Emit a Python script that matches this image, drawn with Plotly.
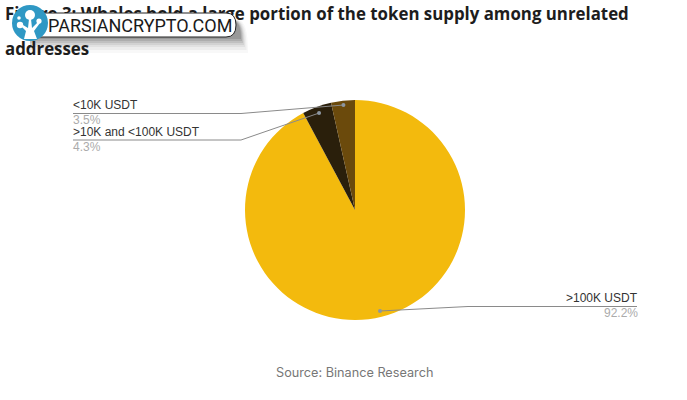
import math
import plotly.graph_objects as go

W, H = 687, 400
categories = [">100K USDT", ">10K and <100K USDT", "<10K USDT"]
values = [92.2, 4.3, 3.5]
colors = ["#F3BA0D", "#2A1F0B", "#6B4A0C"]
pct_labels = ["92.2%", "4.3%", "3.5%"]
title_lines = ["Figure 3: Whales hold a large portion of the token supply among unrelated", "addresses"]
source_text = "Source: Binance Research"
logo_text = "PARSIANCRYPTO.COM"

def px(x): return x / W
def py(y): return 1 - y / H

CX, CY, R = 355, 210, 110

fig = go.Figure(go.Pie(
    labels=categories, values=values, sort=False, direction="clockwise", rotation=0,
    marker=dict(colors=colors, line=dict(width=0)), textinfo="none", hoverinfo="label+percent",
    domain=dict(x=[px(CX - R), px(CX + R)], y=[py(CY + R), py(CY - R)]), showlegend=False,
))

# the title sits under the logo, so it is a text trace (drawn below the shapes)
fig.add_trace(go.Scatter(
    x=[5, 5], y=[16, 51], mode="text", text=[f"<b>{t}</b>" for t in title_lines],
    textposition="middle right", textfont=dict(size=16.85, color="#1d1d1d", family="Open Sans"),
    hoverinfo="skip", showlegend=False,
))

shapes, annos = [], []

def seg(x0, y0, x1, y1, color="#8a8a8a", w=1):
    shapes.append(dict(type="line", xref="paper", yref="paper", x0=px(x0), y0=py(y0), x1=px(x1), y1=py(y1),
                       line=dict(color=color, width=w)))

def text(x, y, s, size, color, anchor="left", family="Liberation Sans"):
    annos.append(dict(xref="paper", yref="paper", x=px(x), y=py(y), text=s, showarrow=False,
                      xanchor=anchor, yanchor="middle", font=dict(size=size, color=color, family=family),
                      borderpad=0))

cum = 0
mids = []
for v in values:
    mids.append((cum + v / 2) / sum(values) * 2 * math.pi)
    cum += v

def point(i, f):
    return CX + f * R * math.sin(mids[i]), CY - f * R * math.cos(mids[i])

dot0 = (380, 311)
dot1 = point(1, 0.94)
dot2 = point(2, 0.96)

for (dx, dy), path in [
    (dot0, [(468, 306.5), (637, 306.5)]),
    (dot1, [(241, 140), (73, 140)]),
    (dot2, [(241, 113.5), (73, 113.5)]),
]:
    pts = [(dx, dy)] + path
    for a, b in zip(pts, pts[1:]):
        seg(a[0], a[1], b[0], b[1])
    shapes.append(dict(type="circle", xref="paper", yref="paper", x0=px(dx - 2), x1=px(dx + 2), y0=py(dy + 2), y1=py(dy - 2),
                       fillcolor="#8d96a0", line=dict(width=0)))

text(638.5, 298, categories[0], 12, "#333333", "right")
text(638.5, 313, pct_labels[0], 12, "#ababab", "right")
text(72, 105.5, categories[2], 12, "#333333")
text(72, 120, pct_labels[2], 12, "#ababab")
text(72, 132, categories[1], 12, "#333333")
text(72, 147, pct_labels[1], 12, "#ababab")

text(354, 372, source_text, 12.7, "#777777", "center", "Inter")

# logo: soft shadow layers, pill, round badge
for off, a in [(16, .03), (13, .05), (10, .06), (8, .08), (6, .10), (4, .12), (2, .15)]:
    shapes.append(dict(type="path", xref="paper", yref="paper",
                       path=f"M {px(30)} {py(20)} L {px(230 + off/2)} {py(20)} Q {px(240 + off/2)} {py(20)} {px(240 + off/2)} {py(37 + off)} L {px(30)} {py(37 + off)} Z",
                       fillcolor=f"rgba(40,40,40,{a})", line=dict(width=0)))
shapes.append(dict(type="path", xref="paper", yref="paper",
                   path=f"M {px(40)} {py(13)} L {px(226)} {py(13)} Q {px(236)} {py(13)} {px(236)} {py(25)} Q {px(236)} {py(37)} {px(226)} {py(37)} L {px(40)} {py(37)} Z",
                   fillcolor="white", line=dict(color="#222222", width=1)))
shapes.append(dict(type="circle", xref="paper", yref="paper", x0=px(12), x1=px(48), y0=py(41), y1=py(5),
                   fillcolor="#2F98C4", line=dict(width=0)))
for cx, cy, r in [(30, 15, 5), (20, 25, 3.2), (39, 21, 2.6), (19, 18, 1.8)]:
    shapes.append(dict(type="circle", xref="paper", yref="paper", x0=px(cx - r), x1=px(cx + r), y0=py(cy + r), y1=py(cy - r),
                       fillcolor="white", line=dict(width=0)))
shapes.append(dict(type="path", xref="paper", yref="paper",
                   path=f"M {px(24)} {py(39)} L {px(26)} {py(31)} L {px(21)} {py(26)} L {px(23)} {py(25)} L {px(28)} {py(28)} L {px(29)} {py(19)} L {px(31)} {py(19)} L {px(32)} {py(28)} L {px(38)} {py(22)} L {px(40)} {py(23)} L {px(34)} {py(31)} L {px(37)} {py(39)} Z",
                   fillcolor="white", line=dict(width=0)))
text(47, 26, logo_text, 18, "#1a1a1a", family="Roboto")

fig.update_layout(width=W, height=H, margin=dict(l=0, r=0, t=0, b=0), paper_bgcolor="white",
                  plot_bgcolor="rgba(0,0,0,0)", shapes=shapes, annotations=annos,
                  xaxis=dict(visible=False, range=[0, W], domain=[0, 1], fixedrange=True),
                  yaxis=dict(visible=False, range=[H, 0], domain=[0, 1], fixedrange=True))
fig.write_html("out.html", post_script="document.body.style.margin='0';", config=dict(displayModeBar=False))
